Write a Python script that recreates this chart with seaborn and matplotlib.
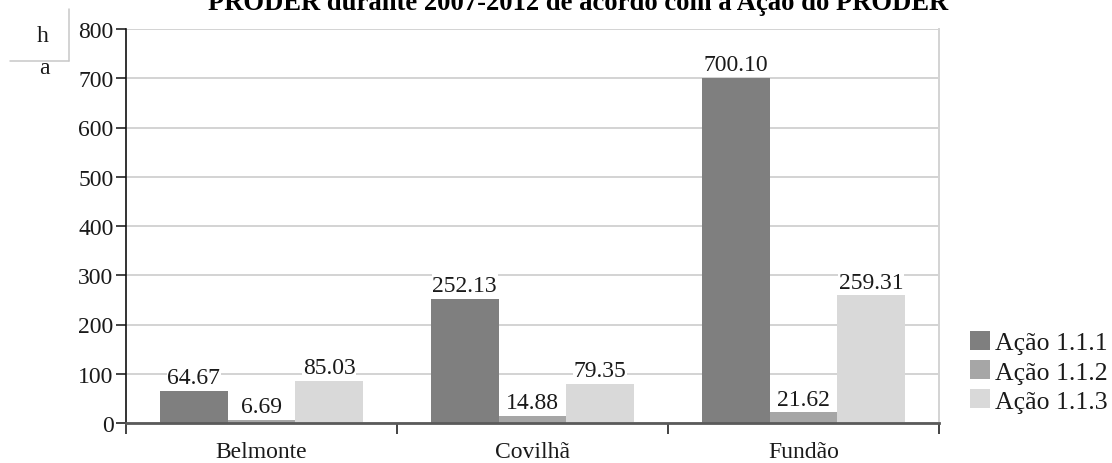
import matplotlib
matplotlib.use("Agg")
import matplotlib.pyplot as plt
from matplotlib.lines import Line2D
from matplotlib.ticker import FixedLocator
import pandas as pd
import seaborn as sns

# Areas (ha) by municipality and PRODER action
municipios = ["Belmonte", "Covilhã", "Fundão"]
acoes = ["Ação 1.1.1", "Ação 1.1.2", "Ação 1.1.3"]
acao_111 = [64.67, 252.13, 700.10]
acao_112 = [6.69, 14.88, 21.62]
acao_113 = [85.03, 79.35, 259.31]
y_ticks = [0, 100, 200, 300, 400, 500, 600, 700, 800]
titulo = "PRODER durante 2007-2012 de acordo com a Ação do PRODER"

cores = ["#7f7f7f", "#a6a6a6", "#d9d9d9"]

df = pd.DataFrame({
    "Município": municipios * 3,
    "Ação": [a for a in acoes for _ in municipios],
    "ha": acao_111 + acao_112 + acao_113,
})

sns.set_theme(style="white")
plt.rcParams["font.family"] = ["Liberation Serif", "DejaVu Serif"]
plt.rcParams["text.color"] = "#1a1a1a"

W, H = 1112, 464
fig = plt.figure(figsize=(W / 100, H / 100), dpi=100)
ax = fig.add_axes([126 / W, 40 / H, (939 - 126) / W, (424 - 30) / H])

sns.barplot(data=df, x="Município", y="ha", hue="Ação", order=municipios,
            hue_order=acoes, palette=cores, saturation=1, width=0.75,
            linewidth=0, ax=ax)

fs = 17
for cont in ax.containers:
    ax.bar_label(cont, fmt="%.2f", padding=2, fontsize=fs, color="#1a1a1a",
                 bbox=dict(facecolor="white", edgecolor="none", pad=0.5))

ax.set_ylim(0, 800)
ax.set_yticks(y_ticks)
ax.set_xlim(-0.5, 2.5)
ax.set_xlabel("")
ax.set_ylabel("")

ax.yaxis.grid(True, color="#d3d3d3", linewidth=1.4)
ax.set_axisbelow(True)

ax.spines["top"].set_visible(False)
ax.spines["right"].set_color("#d3d3d3")
ax.spines["right"].set_linewidth(1.4)
ax.spines["left"].set_color("#111111")
ax.spines["left"].set_linewidth(1.2)
ax.spines["bottom"].set_color("#5a5a5a")
ax.spines["bottom"].set_linewidth(2.0)

ax.tick_params(axis="y", which="major", direction="out", length=7, width=1.1,
               color="#111111", labelsize=fs, pad=2, left=True,
               labelcolor="#1a1a1a")
ax.tick_params(axis="x", which="major", length=0, labelsize=fs, pad=13,
               labelcolor="#1a1a1a")
ax.xaxis.set_minor_locator(FixedLocator([-0.5, 0.5, 1.5, 2.5]))
ax.tick_params(axis="x", which="minor", direction="out", length=8, width=1.1,
               color="#111111", bottom=True)

# Legend on the right, below mid-height
handles, labels = ax.get_legend_handles_labels()
ax.legend_.remove()
fig.legend(handles, labels, loc="upper left",
           bbox_to_anchor=(970 / W, (H - 332) / H), frameon=False,
           fontsize=18.5, handlelength=0.76, handleheight=0.76,
           handletextpad=0.22, labelspacing=0.22, borderpad=0,
           borderaxespad=0)

# Title, partially above the canvas edge
fig.text(578 / W, (H - 10) / H, titulo, ha="center", va="baseline",
         fontsize=19.2, fontweight="bold", color="black")

# Unit label "ha" split across a corner bracket
fig.text(43 / W, (H - 36) / H, "h", ha="center", va="center", fontsize=fs)
fig.text(44 / W, (H - 69) / H, "a", ha="center", va="center", fontsize=fs)
fig.add_artist(Line2D([10 / W, 69 / W], [(H - 62) / H, (H - 62) / H],
                      color="#c8c8c8", linewidth=1.1))
fig.add_artist(Line2D([69 / W, 69 / W], [(H - 10) / H, (H - 62) / H],
                      color="#c8c8c8", linewidth=1.1))

fig.savefig("out.png", dpi=100, facecolor="white")
